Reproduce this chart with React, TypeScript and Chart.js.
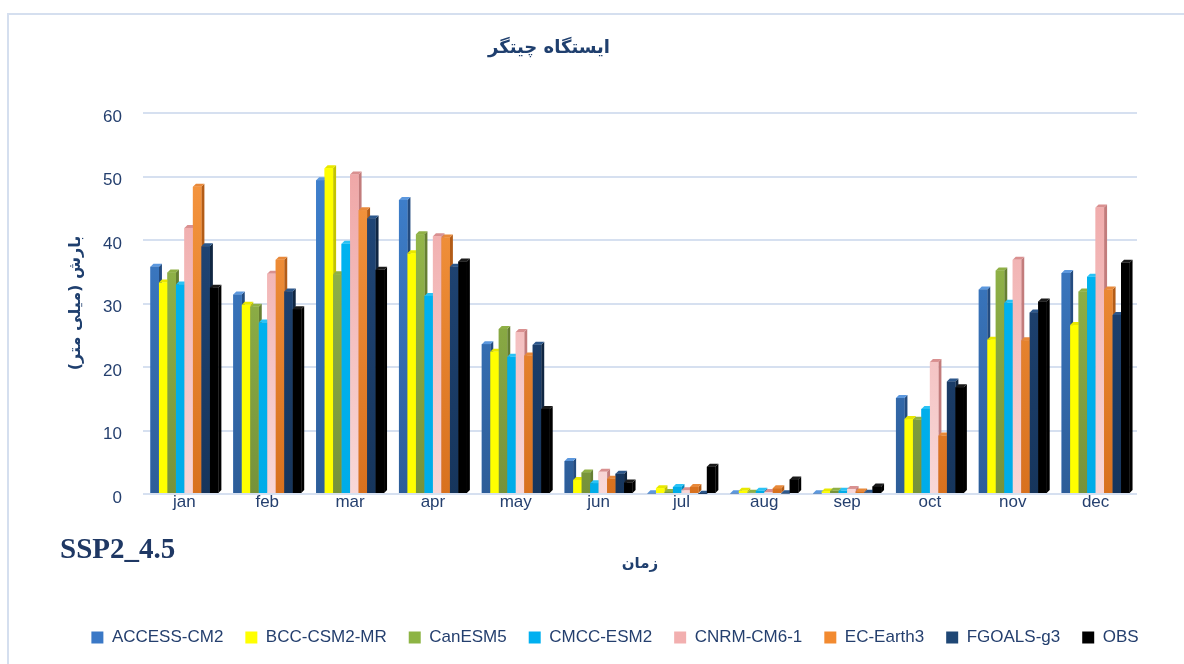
import React, { useEffect, useRef } from 'react';
import { Chart, registerables } from 'chart.js';

Chart.register(...registerables);

// ---- data ----
const months = ['jan', 'feb', 'mar', 'apr', 'may', 'jun', 'jul', 'aug', 'sep', 'oct', 'nov', 'dec'];
const seriesNames = ['ACCESS-CM2', 'BCC-CSM2-MR', 'CanESM5', 'CMCC-ESM2', 'CNRM-CM6-1', 'EC-Earth3', 'FGOALS-g3', 'OBS'];

const accessCm2 = [35.8, 31.4, 49.4, 46.3, 23.6, 5.2, 0.1, 0.1, 0.1, 15.1, 32.2, 34.8];
const bccCsm2Mr = [33.3, 29.8, 51.3, 37.9, 22.4, 2.2, 0.9, 0.5, 0.4, 11.8, 24.3, 26.6];
const canEsm5 = [34.9, 29.5, 34.6, 40.9, 26.0, 3.4, 0.3, 0.2, 0.5, 11.7, 35.2, 31.9];
const cmccEsm2 = [33.0, 27.0, 39.4, 31.2, 21.6, 1.7, 1.1, 0.5, 0.5, 13.4, 30.1, 34.2];
const cnrmCm61 = [41.9, 34.7, 50.3, 40.6, 25.5, 3.5, 0.6, 0.3, 0.8, 20.8, 36.9, 45.1];
const ecEarth3 = [48.4, 36.9, 44.7, 40.4, 21.8, 2.4, 1.1, 0.9, 0.4, 9.2, 24.2, 32.2];
const fgoalsG3 = [39.0, 31.9, 43.4, 35.8, 23.5, 3.2, 0.05, 0.1, 0.2, 17.7, 28.6, 28.2];
const obs = [32.5, 29.1, 35.3, 36.6, 13.4, 1.8, 4.3, 2.3, 1.2, 16.8, 30.3, 36.4];

const seriesValues = [accessCm2, bccCsm2Mr, canEsm5, cmccEsm2, cnrmCm61, ecEarth3, fgoalsG3, obs];

const yMin = 0;
const yMax = 60;
const yStep = 10;

const titleText = 'ایستگاه چیتگر';
const yTitleText = 'بارش (میلی متر)';
const xTitleText = 'زمان';
const scenarioText = 'SSP2_4.5';

// ---- styles ----
const legendColors = ['#3A78C6', '#FFFF00', '#8DB444', '#00B0F0', '#F2AFAF', '#F28A30', '#1F4775', '#000000'];
const faceStyles = [
  { f0: '#4287D8', f1: '#2D5D98', side: '#244C80', top: '#5C98DE' },
  { f0: '#FFFF00', f1: '#FFFF00', side: '#C4C400', top: '#E8E800' },
  { f0: '#A0C650', f1: '#76923A', side: '#667F32', top: '#8FB045' },
  { f0: '#00B6F4', f1: '#00ACE8', side: '#0084BA', top: '#2AC2F5' },
  { f0: '#EE9E9E', f1: '#F8D8D8', side: '#C27C7C', top: '#D99090' },
  { f0: '#FA9C45', f1: '#D8711E', side: '#B35C17', top: '#E8893A' },
  { f0: '#234B7F', f1: '#16355C', side: '#102642', top: '#2C578B' },
  { f0: '#000000', f1: '#000000', side: '#000000', top: '#1A1A1A' },
];
const textColor = '#243F6E';
const gridColor = '#D6E0F0';
const depth = 3;

export default function App() {
  const ref = useRef<HTMLCanvasElement>(null);

  useEffect(() => {
    if (!ref.current) return;
    const bar3d = {
      id: 'bar3d',
      afterDatasetsDraw(chart: any) {
        const ctx = chart.ctx;
        const area = chart.chartArea;
        const n = chart.data.labels.length;
        const metas = chart.data.datasets.map((_: any, i: number) => chart.getDatasetMeta(i));
        ctx.save();
        for (let j = 0; j < n; j++) {
          for (let i = 0; i < metas.length; i++) {
            const el: any = metas[i].data[j];
            if (!el) continue;
            const p = el.getProps(['x', 'y', 'base', 'width'], true);
            const l = p.x - p.width / 2;
            const r = p.x + p.width / 2;
            const st = faceStyles[i];
            ctx.fillStyle = st.side;
            ctx.beginPath();
            ctx.moveTo(r, p.y);
            ctx.lineTo(r + depth, p.y - depth);
            ctx.lineTo(r + depth, p.base - depth);
            ctx.lineTo(r, p.base);
            ctx.closePath();
            ctx.fill();
            ctx.fillStyle = st.top;
            ctx.beginPath();
            ctx.moveTo(l, p.y);
            ctx.lineTo(l + depth, p.y - depth);
            ctx.lineTo(r + depth, p.y - depth);
            ctx.lineTo(r, p.y);
            ctx.closePath();
            ctx.fill();
            const g = ctx.createLinearGradient(0, area.top, 0, area.bottom);
            g.addColorStop(0, st.f0);
            g.addColorStop(1, st.f1);
            ctx.fillStyle = g;
            ctx.fillRect(l, p.y, p.width, p.base - p.y);
          }
        }
        ctx.restore();
      },
    };

    const chart = new Chart(ref.current, {
      type: 'bar',
      data: {
        labels: months,
        datasets: seriesNames.map((name, i) => ({
          label: name,
          data: seriesValues[i],
          backgroundColor: legendColors[i],
          borderWidth: 0,
          categoryPercentage: 0.82,
          barPercentage: 1,
        })),
      },
      options: {
        animation: false,
        responsive: false,
        maintainAspectRatio: false,
        layout: { padding: { left: 46, right: 0, top: 113, bottom: 8 } },
        plugins: {
          legend: {
            position: 'bottom',
            labels: {
              boxWidth: 12,
              boxHeight: 12,
              padding: 22,
              color: textColor,
              font: { family: 'Liberation Sans, Arial, sans-serif', size: 17 },
            },
          },
          tooltip: { enabled: false },
          title: { display: false },
        },
        scales: {
          x: {
            grid: { display: false },
            border: { display: false },
            ticks: {
              color: textColor,
              padding: -10,
              font: { family: 'Liberation Sans, Arial, sans-serif', size: 17 },
            },
            afterFit(scale: any) {
              scale.height = 113;
            },
          },
          y: {
            min: yMin,
            max: yMax,
            border: { display: false },
            grid: { color: gridColor, lineWidth: 2, drawTicks: false },
            ticks: {
              stepSize: yStep,
              padding: 21,
              labelOffset: 4,
              color: textColor,
              font: { family: 'Liberation Sans, Arial, sans-serif', size: 17 },
            },
            afterFit(scale: any) {
              scale.width = 97;
            },
          },
          yRight: {
            type: 'linear',
            position: 'right',
            display: true,
            min: yMin,
            max: yMax,
            grid: { display: false },
            border: { display: false },
            ticks: { display: false },
            afterFit(scale: any) {
              scale.width = 47;
            },
          },
        },
      },
      plugins: [bar3d],
    } as any);
    return () => chart.destroy();
  }, []);

  const arabicFont = '"DejaVu Sans", "Noto Sans", sans-serif';

  return (
    <div style={{ position: 'fixed', left: 0, top: 0, width: 1184, height: 664, background: '#ffffff', overflow: 'hidden' }}>
      <div
        style={{
          position: 'absolute',
          left: 7,
          top: 13,
          width: 1300,
          height: 800,
          borderLeft: '2px solid #D5DFEF',
          borderTop: '2px solid #D5DFEF',
        }}
      />
      <canvas ref={ref} width={1184} height={664} style={{ position: 'absolute', left: 0, top: 0 }} />
      <div
        dir="rtl"
        style={{
          position: 'absolute',
          left: 399,
          top: 33,
          width: 300,
          textAlign: 'center',
          fontFamily: arabicFont,
          fontWeight: 'bold',
          fontSize: 18,
          lineHeight: '28px',
          color: '#1F3F6E',
        }}
      >
        {titleText}
      </div>
      <div
        dir="rtl"
        style={{
          position: 'absolute',
          left: 75 - 110,
          top: 303 - 12,
          width: 220,
          height: 24,
          lineHeight: '24px',
          textAlign: 'center',
          transform: 'rotate(-90deg)',
          fontFamily: arabicFont,
          fontWeight: 'bold',
          fontSize: 16,
          color: '#1F3F6E',
        }}
      >
        {yTitleText}
      </div>
      <div
        dir="rtl"
        style={{
          position: 'absolute',
          left: 590,
          top: 550,
          width: 100,
          lineHeight: '26px',
          textAlign: 'center',
          fontFamily: arabicFont,
          fontWeight: 'bold',
          fontSize: 15,
          color: '#1F3F6E',
        }}
      >
        {xTitleText}
      </div>
      <div
        style={{
          position: 'absolute',
          left: 60,
          top: 532,
          lineHeight: '32px',
          fontFamily: '"Liberation Serif", "Times New Roman", serif',
          fontWeight: 'bold',
          fontSize: 29,
          color: '#1F3864',
          whiteSpace: 'nowrap',
        }}
      >
        {scenarioText}
      </div>
    </div>
  );
}
